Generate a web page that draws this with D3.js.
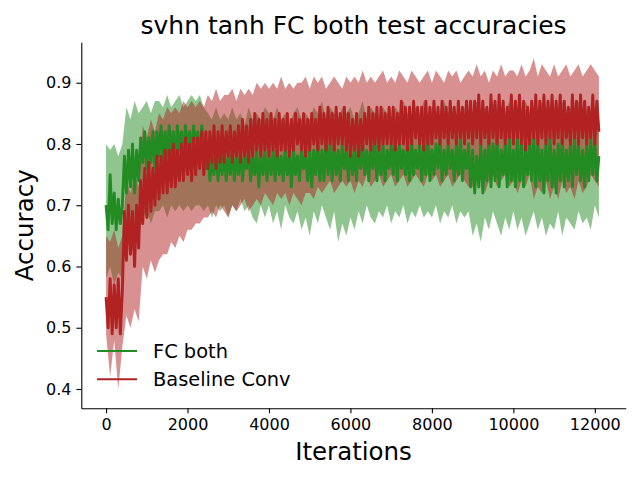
<!DOCTYPE html>
<html>
<head>
<meta charset="utf-8">
<script src="https://cdn.jsdelivr.net/npm/d3@7"></script>
<style>
  body { margin: 0; background: #fff; }
  svg { display: block; }
</style>
</head>
<body>
<div id="vis"></div>
<script>
// mean test accuracy logged every 50 iterations, std band read every 100
const meanEvery = 50;
const bandEvery = 100;

// FC both
const fcMean = [
  0.70, 0.66, 0.75, 0.67, 0.72, 0.66, 0.71, 0.67, 0.70, 0.78,
  0.72, 0.79, 0.73, 0.80, 0.72, 0.79, 0.74, 0.81, 0.77, 0.82,
  0.76, 0.81, 0.77, 0.82, 0.76, 0.82, 0.78, 0.83, 0.77, 0.82,
  0.78, 0.83, 0.78, 0.82, 0.77, 0.83, 0.79, 0.82, 0.78, 0.83,
  0.79, 0.82, 0.78, 0.83, 0.79, 0.82, 0.78, 0.83, 0.79, 0.76,
  0.79, 0.74, 0.78, 0.75, 0.79, 0.74, 0.78, 0.75, 0.79, 0.74,
  0.78, 0.75, 0.79, 0.74, 0.78, 0.75, 0.79, 0.74, 0.78, 0.76,
  0.79, 0.74, 0.78, 0.75, 0.79, 0.73, 0.78, 0.75, 0.79, 0.74,
  0.78, 0.75, 0.79, 0.74, 0.79, 0.75, 0.78, 0.74, 0.79, 0.75,
  0.78, 0.73, 0.79, 0.75, 0.78, 0.74, 0.79, 0.76, 0.78, 0.74,
  0.79, 0.73, 0.79, 0.75, 0.80, 0.74, 0.79, 0.74, 0.81, 0.75,
  0.80, 0.74, 0.80, 0.75, 0.79, 0.74, 0.80, 0.76, 0.79, 0.74,
  0.80, 0.75, 0.79, 0.74, 0.81, 0.76, 0.80, 0.75, 0.79, 0.74,
  0.80, 0.76, 0.81, 0.74, 0.79, 0.75, 0.80, 0.74, 0.79, 0.76,
  0.80, 0.75, 0.81, 0.74, 0.80, 0.76, 0.79, 0.75, 0.80, 0.74,
  0.81, 0.75, 0.79, 0.76, 0.80, 0.74, 0.80, 0.75, 0.81, 0.74,
  0.79, 0.75, 0.80, 0.76, 0.81, 0.74, 0.79, 0.75, 0.80, 0.76,
  0.79, 0.74, 0.80, 0.75, 0.81, 0.74, 0.79, 0.76, 0.80, 0.73,
  0.79, 0.72, 0.78, 0.73, 0.80, 0.72, 0.79, 0.74, 0.81, 0.73,
  0.80, 0.74, 0.81, 0.73, 0.79, 0.75, 0.80, 0.73, 0.81, 0.74,
  0.79, 0.73, 0.81, 0.74, 0.80, 0.73, 0.79, 0.75, 0.80, 0.74,
  0.81, 0.73, 0.80, 0.74, 0.79, 0.72, 0.80, 0.74, 0.81, 0.73,
  0.79, 0.72, 0.80, 0.74, 0.81, 0.73, 0.79, 0.74, 0.80, 0.73,
  0.81, 0.75, 0.80, 0.74, 0.79, 0.73, 0.80, 0.74, 0.81, 0.75,
  0.80, 0.74, 0.78
];
const fcHigh = [
  0.80, 0.79, 0.80, 0.78, 0.80, 0.86, 0.84, 0.87, 0.85, 0.86,
  0.87, 0.85, 0.87, 0.87, 0.86, 0.88, 0.86, 0.87, 0.88, 0.86,
  0.87, 0.88, 0.87, 0.88, 0.86, 0.85, 0.84, 0.86, 0.84, 0.85,
  0.84, 0.86, 0.84, 0.85, 0.83, 0.86, 0.84, 0.85, 0.84, 0.86,
  0.85, 0.84, 0.86, 0.84, 0.85, 0.83, 0.85, 0.86, 0.84, 0.85,
  0.84, 0.86, 0.85, 0.87, 0.84, 0.86, 0.85, 0.84, 0.86, 0.85,
  0.86, 0.84, 0.85, 0.87, 0.84, 0.86, 0.85, 0.84, 0.86, 0.85,
  0.84, 0.86, 0.85, 0.87, 0.85, 0.84, 0.86, 0.85, 0.87, 0.84,
  0.86, 0.85, 0.84, 0.87, 0.85, 0.86, 0.84, 0.85, 0.86, 0.84,
  0.85, 0.87, 0.84, 0.86, 0.85, 0.87, 0.84, 0.86, 0.85, 0.87,
  0.85, 0.86, 0.84, 0.87, 0.85, 0.86, 0.84, 0.87, 0.86, 0.85,
  0.86, 0.84, 0.87, 0.85, 0.86, 0.84, 0.87, 0.85, 0.86, 0.85,
  0.86, 0.85
];
const fcLow = [
  0.58, 0.60, 0.57, 0.59, 0.58, 0.66, 0.64, 0.66, 0.65, 0.68,
  0.69, 0.67, 0.69, 0.69, 0.70, 0.68, 0.70, 0.69, 0.70, 0.69,
  0.70, 0.69, 0.70, 0.70, 0.69, 0.70, 0.68, 0.70, 0.69, 0.70,
  0.68, 0.70, 0.69, 0.71, 0.69, 0.70, 0.68, 0.67, 0.70, 0.68,
  0.70, 0.67, 0.69, 0.66, 0.70, 0.68, 0.67, 0.69, 0.66, 0.68,
  0.65, 0.69, 0.67, 0.70, 0.68, 0.66, 0.69, 0.64, 0.67, 0.65,
  0.68, 0.66, 0.69, 0.67, 0.70, 0.68, 0.67, 0.69, 0.68, 0.70,
  0.67, 0.69, 0.68, 0.70, 0.67, 0.69, 0.68, 0.70, 0.68, 0.69,
  0.68, 0.70, 0.67, 0.69, 0.68, 0.70, 0.67, 0.69, 0.68, 0.69,
  0.65, 0.67, 0.64, 0.68, 0.66, 0.69, 0.67, 0.65, 0.68, 0.66,
  0.69, 0.66, 0.68, 0.65, 0.67, 0.69, 0.66, 0.68, 0.65, 0.67,
  0.66, 0.69, 0.65, 0.68, 0.67, 0.66, 0.69, 0.67, 0.68, 0.66,
  0.70, 0.68
];

// Baseline Conv
const convMean = [
  0.55, 0.50, 0.58, 0.49, 0.57, 0.50, 0.58, 0.49, 0.56, 0.69,
  0.61, 0.70, 0.62, 0.69, 0.60, 0.70, 0.63, 0.74, 0.67, 0.76,
  0.68, 0.77, 0.69, 0.76, 0.70, 0.78, 0.71, 0.78, 0.72, 0.79,
  0.72, 0.79, 0.73, 0.80, 0.73, 0.79, 0.74, 0.80, 0.74, 0.81,
  0.75, 0.80, 0.74, 0.81, 0.75, 0.81, 0.76, 0.82, 0.75, 0.82,
  0.76, 0.82, 0.77, 0.83, 0.76, 0.82, 0.77, 0.83, 0.77, 0.82,
  0.78, 0.83, 0.77, 0.82, 0.78, 0.83, 0.77, 0.84, 0.78, 0.83,
  0.77, 0.84, 0.78, 0.85, 0.79, 0.84, 0.78, 0.85, 0.79, 0.84,
  0.78, 0.85, 0.79, 0.84, 0.78, 0.85, 0.79, 0.84, 0.79, 0.85,
  0.78, 0.84, 0.79, 0.85, 0.80, 0.84, 0.79, 0.85, 0.78, 0.84,
  0.79, 0.85, 0.80, 0.84, 0.79, 0.86, 0.80, 0.85, 0.79, 0.86,
  0.80, 0.85, 0.79, 0.86, 0.80, 0.85, 0.80, 0.86, 0.79, 0.85,
  0.78, 0.84, 0.79, 0.85, 0.78, 0.84, 0.79, 0.85, 0.80, 0.86,
  0.79, 0.85, 0.80, 0.86, 0.79, 0.86, 0.80, 0.85, 0.80, 0.86,
  0.80, 0.86, 0.79, 0.85, 0.80, 0.87, 0.80, 0.86, 0.79, 0.86,
  0.80, 0.87, 0.81, 0.86, 0.80, 0.86, 0.79, 0.87, 0.80, 0.86,
  0.80, 0.87, 0.81, 0.86, 0.80, 0.87, 0.81, 0.86, 0.80, 0.87,
  0.81, 0.86, 0.80, 0.87, 0.81, 0.86, 0.80, 0.87, 0.81, 0.87,
  0.80, 0.87, 0.81, 0.88, 0.80, 0.87, 0.81, 0.86, 0.80, 0.88,
  0.81, 0.87, 0.80, 0.88, 0.81, 0.87, 0.80, 0.86, 0.81, 0.88,
  0.80, 0.87, 0.81, 0.88, 0.80, 0.87, 0.79, 0.86, 0.80, 0.87,
  0.81, 0.88, 0.80, 0.87, 0.81, 0.88, 0.80, 0.87, 0.81, 0.88,
  0.80, 0.87, 0.81, 0.88, 0.80, 0.87, 0.81, 0.86, 0.80, 0.88,
  0.81, 0.87, 0.80, 0.88, 0.81, 0.87, 0.80, 0.86, 0.81, 0.88,
  0.80, 0.87, 0.82
];
const convHigh = [
  0.65, 0.64, 0.66, 0.63, 0.65, 0.74, 0.72, 0.75, 0.73, 0.83,
  0.81, 0.84, 0.82, 0.85, 0.84, 0.86, 0.85, 0.86, 0.85, 0.87,
  0.86, 0.87, 0.86, 0.87, 0.86, 0.88, 0.87, 0.89, 0.87, 0.88,
  0.88, 0.89, 0.87, 0.89, 0.88, 0.89, 0.88, 0.90, 0.89, 0.90,
  0.89, 0.90, 0.89, 0.91, 0.89, 0.90, 0.89, 0.90, 0.90, 0.91,
  0.89, 0.91, 0.90, 0.91, 0.89, 0.90, 0.91, 0.90, 0.89, 0.91,
  0.90, 0.91, 0.90, 0.92, 0.90, 0.91, 0.90, 0.91, 0.92, 0.90,
  0.91, 0.90, 0.92, 0.91, 0.90, 0.92, 0.91, 0.90, 0.91, 0.92,
  0.90, 0.92, 0.91, 0.90, 0.92, 0.91, 0.92, 0.90, 0.91, 0.92,
  0.91, 0.93, 0.91, 0.92, 0.90, 0.92, 0.91, 0.93, 0.91, 0.92,
  0.92, 0.91, 0.93, 0.91, 0.92, 0.94, 0.91, 0.93, 0.92, 0.91,
  0.93, 0.91, 0.92, 0.93, 0.91, 0.92, 0.93, 0.91, 0.92, 0.93,
  0.92, 0.91
];
const convLow = [
  0.49, 0.42, 0.48, 0.40, 0.47, 0.52, 0.50, 0.53, 0.51, 0.60,
  0.58, 0.61, 0.59, 0.61, 0.62, 0.62, 0.64, 0.63, 0.65, 0.64,
  0.66, 0.66, 0.67, 0.67, 0.68, 0.68, 0.69, 0.68, 0.70, 0.69,
  0.68, 0.70, 0.69, 0.70, 0.71, 0.69, 0.70, 0.71, 0.70, 0.72,
  0.71, 0.70, 0.72, 0.71, 0.72, 0.70, 0.72, 0.71, 0.70, 0.72,
  0.72, 0.71, 0.73, 0.72, 0.73, 0.74, 0.72, 0.73, 0.74, 0.73,
  0.74, 0.72, 0.74, 0.73, 0.75, 0.73, 0.74, 0.75, 0.73, 0.74,
  0.75, 0.73, 0.74, 0.75, 0.73, 0.74, 0.75, 0.74, 0.73, 0.75,
  0.74, 0.75, 0.73, 0.74, 0.75, 0.73, 0.74, 0.75, 0.74, 0.73,
  0.73, 0.75, 0.74, 0.72, 0.74, 0.75, 0.73, 0.74, 0.75, 0.73,
  0.74, 0.72, 0.74, 0.73, 0.75, 0.71, 0.73, 0.72, 0.74, 0.71,
  0.73, 0.71, 0.74, 0.72, 0.73, 0.71, 0.74, 0.72, 0.73, 0.75,
  0.74, 0.73
];

const seriesNames = ["FC both", "Baseline Conv"];
const seriesColors = ["#228b22", "#b22222"];
const xTicks = [0, 2000, 4000, 6000, 8000, 10000, 12000];
const yTicks = [0.4, 0.5, 0.6, 0.7, 0.8, 0.9];

const width = 640, height = 480;
const margin = { top: 42.3, right: 14.3, bottom: 71.7, left: 81.3 };
const font = "'DejaVu Sans', 'Liberation Sans', sans-serif";

const svg = d3.select("#vis")
  .append("svg")
  .attr("width", width)
  .attr("height", height);

const x = d3.scaleLinear()
  .domain([-608, 12758])
  .range([margin.left, width - margin.right]);
const y = d3.scaleLinear()
  .domain([0.3685, 0.966])
  .range([height - margin.bottom, margin.top]);

const series = [
  { name: seriesNames[0], color: seriesColors[0], mean: fcMean, lo: fcLow, hi: fcHigh },
  { name: seriesNames[1], color: seriesColors[1], mean: convMean, lo: convLow, hi: convHigh }
];
series.forEach(s => {
  s.line = s.mean.map((v, i) => ({ it: i * meanEvery, v: v }));
  s.band = s.lo.map((v, i) => ({ it: i * bandEvery, lo: v, hi: s.hi[i] }));
});

const band = d3.area()
  .x(d => x(d.it))
  .y0(d => y(d.lo))
  .y1(d => y(d.hi));
const line = d3.line()
  .x(d => x(d.it))
  .y(d => y(d.v));

// bands first, then the mean lines on top
svg.append("g").selectAll("path")
  .data(series)
  .join("path")
  .attr("d", d => band(d.band))
  .attr("fill", d => d.color)
  .attr("fill-opacity", 0.5)
  .attr("stroke", "none");

// the logged mean jumps every step, so the line reads as a solid ribbon
svg.append("g").selectAll("path")
  .data(series)
  .join("path")
  .attr("d", d => line(d.line))
  .attr("fill", "none")
  .attr("stroke", d => d.color)
  .attr("stroke-width", 2.9)
  .attr("stroke-linejoin", "round");

// axes, only left and bottom spines
const xAxis = svg.append("g")
  .attr("transform", `translate(0,${height - margin.bottom})`)
  .call(d3.axisBottom(x).tickValues(xTicks).tickFormat(d3.format("d"))
    .tickSize(4.9).tickSizeOuter(0).tickPadding(5));
const yAxis = svg.append("g")
  .attr("transform", `translate(${margin.left},0)`)
  .call(d3.axisLeft(y).tickValues(yTicks).tickFormat(d3.format(".1f"))
    .tickSize(4.9).tickSizeOuter(0).tickPadding(5));

[xAxis, yAxis].forEach(g => {
  g.select(".domain").attr("stroke", "#000").attr("stroke-width", 1.1);
  g.selectAll(".tick line").attr("stroke", "#000").attr("stroke-width", 1.1);
  g.selectAll(".tick text")
    .attr("fill", "#000")
    .style("font-family", font)
    .style("font-size", "16px");
});

svg.append("text")
  .attr("x", (margin.left + width - margin.right) / 2)
  .attr("y", 34)
  .attr("text-anchor", "middle")
  .style("font-family", font)
  .style("font-size", "25px")
  .attr("fill", "#000")
  .text("svhn tanh FC both test accuracies");

svg.append("text")
  .attr("x", (margin.left + width - margin.right) / 2)
  .attr("y", 460)
  .attr("text-anchor", "middle")
  .style("font-family", font)
  .style("font-size", "24.5px")
  .attr("fill", "#000")
  .text("Iterations");

svg.append("text")
  .attr("transform", `translate(33,${(margin.top + height - margin.bottom) / 2}) rotate(-90)`)
  .attr("text-anchor", "middle")
  .style("font-family", font)
  .style("font-size", "24.5px")
  .attr("fill", "#000")
  .text("Accuracy");

// legend, no frame
const legend = svg.append("g").attr("transform", "translate(97,351)");
const item = legend.selectAll("g")
  .data(series)
  .join("g")
  .attr("transform", (d, i) => `translate(0,${i * 28.3})`);
item.append("line")
  .attr("x1", 0).attr("x2", 40)
  .attr("stroke", d => d.color)
  .attr("stroke-width", 2.1);
item.append("text")
  .attr("x", 56)
  .attr("y", 7)
  .style("font-family", font)
  .style("font-size", "19.4px")
  .attr("fill", "#000")
  .text(d => d.name);
</script>
</body>
</html>
